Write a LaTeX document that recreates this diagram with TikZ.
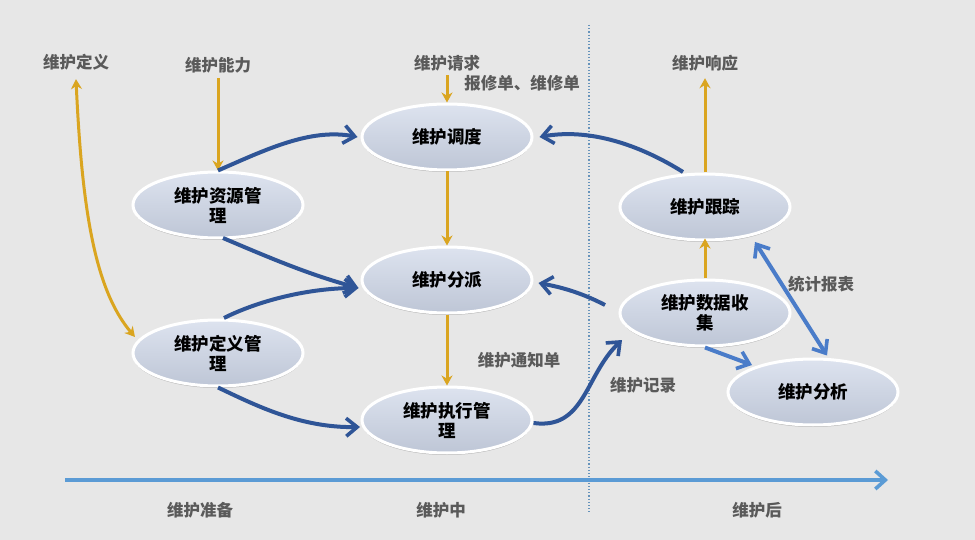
\documentclass[tikz,border=0pt]{standalone}
\usepackage{fontspec}
\setmainfont{Noto Sans CJK SC}
\usetikzlibrary{shapes.geometric,arrows.meta,shadows}
\definecolor{bg}{HTML}{E7E7E7}
\definecolor{gold}{HTML}{DAA520}
\definecolor{dblue}{HTML}{2F5597}
\definecolor{mblue}{HTML}{4A7CC9}
\definecolor{axis}{HTML}{5B9BD5}
\definecolor{lbl}{HTML}{5A5A5A}
\definecolor{ntop}{HTML}{DDE3EF}
\definecolor{nbot}{HTML}{BEC6D6}
\begin{document}
\begin{tikzpicture}[x=1pt,y=-1pt,
  proc/.style={ellipse,minimum width=170pt,minimum height=66pt,inner sep=0pt,
    top color=ntop,bottom color=nbot,draw=white,line width=3pt,
    drop shadow={shadow xshift=0pt,shadow yshift=-2pt,fill=gray,opacity=0.5},
    align=center,font=\fontsize{17.5}{20}\selectfont\bfseries,text=black},
  lab/.style={font=\fontsize{16.5}{19}\selectfont\bfseries,text=lbl,inner sep=1pt},
  garrow/.style={draw=gold,line width=3pt,-{Stealth[length=10pt,width=11pt]}},
  barb/.tip={Straight Barb[length=11pt,width=18pt,line width=3.6pt]},
  barrow/.style={draw=dblue,line width=4pt,-barb},
  marrow/.style={draw=mblue,line width=4pt,-barb}
]
\fill[bg] (0,0) rectangle (975,540);
\useasboundingbox (0,0) rectangle (975,540);

% dotted separator and axis
\coordinate (dtop) at (589,25);
\coordinate (dbot) at (589,512);
\draw[axis!70!gray,line width=1.2pt,dotted] (dtop) -- (dbot);
\coordinate (ax0) at (65,480);
\coordinate (ax1) at (888,480);
\draw[axis,line width=3.6pt,-{Straight Barb[length=10pt,width=18pt,line width=3.6pt]}] (ax0) -- (ax1);

% nodes
\node[proc] (sched) at (447,137) {维护调度};
\node[proc] (disp)  at (447,280) {维护分派};
\node[proc] (res)   at (218,205) {维护资源管\\理};
\node[proc] (defm)  at (218,353) {维护定义管\\理};
\node[proc] (exec)  at (447,420) {维护执行管\\理};
\node[proc] (track) at (705,207) {维护跟踪};
\node[proc] (coll)  at (705,313) {维护数据收\\集};
\node[proc] (anal)  at (813,392) {维护分析};

% labels
\node[lab] (ldef)  at (76,62)  {维护定义};
\node[lab] (lcap)  at (218,65) {维护能力};
\node[lab] (lreq)  at (447,63) {维护请求};
\node[lab] (lform) at (522,83) {报修单、维修单};
\node[lab] (lresp) at (705,63) {维护响应};
\node[lab] (lstat) at (821,284) {统计报表};
\node[lab] (lnote) at (519,360) {维护通知单};
\node[lab] (lrec)  at (643,385) {维护记录};
\node[lab] (p1) at (200,510) {维护准备};
\node[lab] (p2) at (441,510) {维护中};
\node[lab] (p3) at (757,510) {维护后};

% gold arrows
\draw[garrow] ([yshift=-4pt]lcap.south) -- (res.north);
\draw[garrow] ([yshift=-3pt]lreq.south) -- (sched.north);
\draw[garrow] (sched.south) -- (disp.north);
\draw[garrow] (disp.south) -- (exec.north);
\draw[garrow] (track.north) -- ([yshift=-6pt]lresp.south);
\draw[garrow] (coll.north) -- ([yshift=3pt]track.south);
\draw[draw=gold,line width=3pt,{Stealth[length=10pt,width=11pt]}-{Stealth[length=10pt,width=11pt]}]
  ([yshift=-8pt]ldef.south) .. controls (82,210) and (95,290) .. ([shift={(-83pt,16pt)}]defm.center);

% dark blue curved arrows
\draw[barrow] (res.north) .. controls (265,150) and (310,128) .. ([xshift=-3pt]sched.west);
\draw[barrow] ([shift={(5pt,-33pt)}]res.center) .. controls (270,258) and (310,275) .. ([shift={(-2pt,-8pt)}]disp.west);
\draw[barrow] ([shift={(6pt,35pt)}]defm.center) .. controls (260,300) and (310,288) .. ([shift={(-2pt,-8pt)}]disp.west);
\draw[barrow] (defm.south) .. controls (255,405) and (300,428) .. ([shift={(-87pt,-7pt)}]exec.center);
\draw[barrow] ([yshift=-3pt]exec.east) .. controls (585,430) and (585,375) .. ([shift={(-83pt,-27pt)}]coll.center);
\draw[barrow] ([shift={(-22pt,35pt)}]track.center) .. controls (640,145) and (590,128) .. ([xshift=6pt]sched.east);
\draw[barrow] ([shift={(-100pt,8pt)}]coll.center) .. controls (580,292) and (560,287) .. ([shift={(5pt,-3pt)}]disp.east);

% medium blue arrows
\draw[marrow] (coll.south) -- ([shift={(-61pt,27pt)}]anal.center);
\draw[draw=mblue,line width=4pt,barb-barb]
  ([shift={(50pt,-35pt)}]track.center) -- ([shift={(14pt,2pt)}]anal.north);
\end{tikzpicture}
\end{document}
